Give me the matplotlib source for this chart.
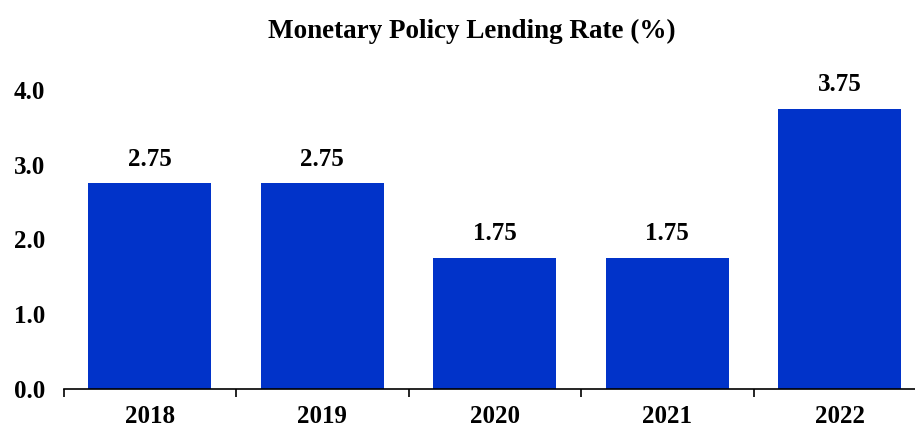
import numpy as np
import matplotlib.pyplot as plt

years = ['2018', '2019', '2020', '2021', '2022']
rates = [2.75, 2.75, 1.75, 1.75, 3.75]
labels = ['2.75', '2.75', '1.75', '1.75', '3.75']

plt.rcParams['font.family'] = ['Liberation Serif', 'DejaVu Serif']
plt.rcParams['font.weight'] = 'bold'

fig = plt.figure(figsize=(9.15, 4.30), dpi=100)
ax = fig.add_axes([0.0694, 0.0965, 0.9427, 0.694])

x = np.arange(len(years))
ax.bar(x, rates, width=0.713, color='#0133C9')

for xi, v, t in zip(x, rates, labels):
    ax.annotate(t, (xi, v), xytext=(0, 9), textcoords='offset points',
                ha='center', va='bottom', fontsize=18, fontweight='bold')

ax.set_xlim(-0.5, 4.5)
ax.set_ylim(0, 4.0)
ax.set_yticks([0, 1, 2, 3, 4])
ax.set_yticklabels(['0.0', '1.0', '2.0', '3.0', '4.0'])
ax.set_xticks(x)
ax.set_xticklabels(years)
ax.set_xticks(np.arange(-0.5, 5, 1.0), minor=True)

ax.tick_params(axis='y', length=0, pad=13, labelsize=18)
ax.tick_params(axis='x', which='major', length=0, pad=12, labelsize=18)
ax.tick_params(axis='x', which='minor', length=6, width=1.2, direction='out')

for s in ['top', 'right', 'left']:
    ax.spines[s].set_visible(False)
ax.spines['bottom'].set_linewidth(1.2)

fig.suptitle('Monetary Policy Lending Rate (%)', x=0.516, y=0.957, fontsize=19.5, fontweight='bold')

fig.savefig('out.png', dpi=100)
